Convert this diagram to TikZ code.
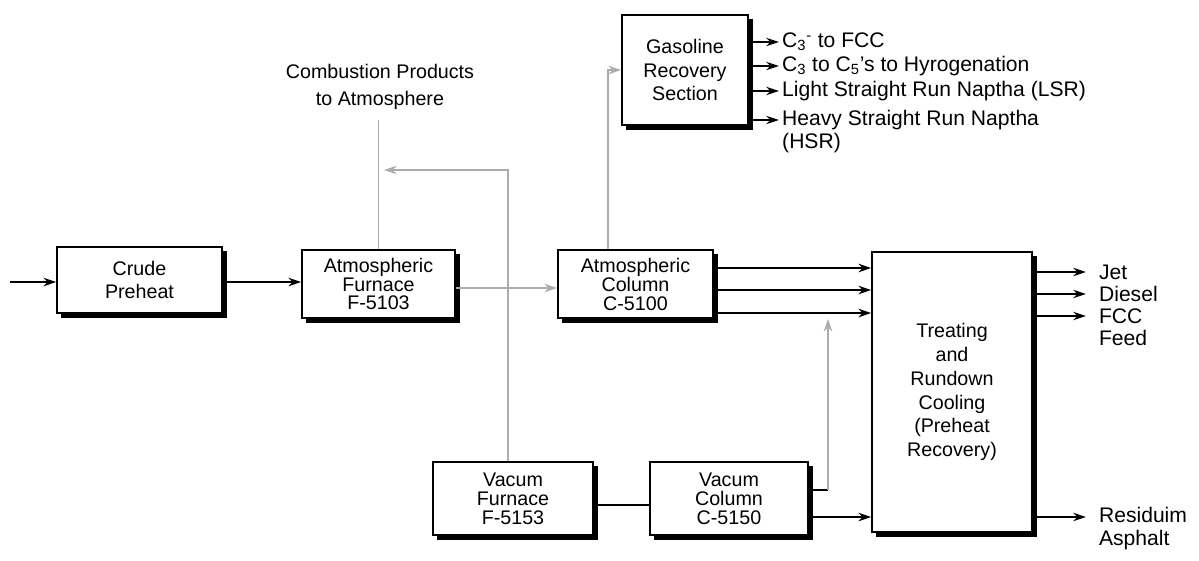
\documentclass[tikz,border=0pt]{standalone}
\usepackage{fontspec}
\setmainfont{Liberation Sans}
\usetikzlibrary{arrows.meta,shadows}
\begin{document}
\begin{tikzpicture}[x=0.025cm,y=-0.025cm,font=\fontsize{14}{17}\selectfont,
  unit/.style={draw,line width=1.1pt,fill=white,align=center,inner sep=1pt,
    drop shadow={shadow xshift=3.2pt,shadow yshift=-3.2pt,fill=black,opacity=1}},
  tight/.style={font=\fontsize{14}{13}\selectfont},
  mid/.style={font=\fontsize{14}{13.5}\selectfont},
  flow/.style={line width=0.9pt,-{Stealth[length=9pt,width=6pt]}},
  gflow/.style={flow,gray!65},
  pipe/.style={line width=0.9pt},
  gpipe/.style={pipe,gray!65},
  prod/.style={anchor=west,align=left,inner sep=2pt,font=\fontsize{15}{16.3}\selectfont}]
\useasboundingbox (0,0) rectangle (1199,560);
\node[unit,minimum width=4.125cm,minimum height=1.65cm] (crude) at (139.5,280) {Crude\\Preheat};
\node[unit,tight,minimum width=3.825cm,minimum height=1.7cm] (furn) at (378.5,284) {Atmospheric\\Furnace\\F-5103};
\node[unit,tight,minimum width=3.875cm,minimum height=1.7cm] (atmcol) at (635.5,284) {Atmospheric\\Column\\C-5100};
\node[unit,minimum width=3.15cm,minimum height=2.75cm] (gasrec) at (685,70) {Gasoline\\Recovery\\Section};
\node[unit,minimum width=4cm,minimum height=7cm] (treat) at (952,392) {Treating\\and\\Rundown\\Cooling\\(Preheat\\Recovery)};
\node[unit,mid,minimum width=4cm,minimum height=1.825cm] (vacfurn) at (513,498.5) {Vacum\\Furnace\\F-5153};
\node[unit,mid,minimum width=3.95cm,minimum height=1.825cm] (vaccol) at (729,498.5) {Vacum\\Column\\C-5150};
\node[align=center,font=\fontsize{14}{19}\selectfont] (comb) at (380,87) {Combustion Products\\to Atmosphere};
\coordinate (feed) at (10,282);
\coordinate (vent) at (378.5,120);
\coordinate (flue) at (384,170);
\coordinate (lift) at (828,490);
\draw[flow] (feed) -- (crude.west |- feed);
\draw[flow] (crude.east |- 0,282) -- (furn.west |- 0,282);
\draw[gflow] (furn.east |- 0,288) -- (atmcol.west |- 0,288);
\draw[gpipe] (furn.north) -- (vent);
\draw[gflow] (vacfurn.north -| 508,0) |- (flue);
\draw[gflow] (atmcol.north -| 608,0) |- (gasrec.west);
\foreach \yy/\lab [count=\i] in {42/{C\textsubscript{3}\textsuperscript{-} to FCC},
  66/{C\textsubscript{3} to C\textsubscript{5}'s to Hyrogenation},91/{Light Straight Run Naptha (LSR)}}{
  \draw[flow] (gasrec.east |- 0,\yy) -- ++(30,0) node[prod] (gas\i) {\lab};}
\draw[flow] (gasrec.east |- 0,120) -- ++(30,0) node[prod,yshift=-8pt] (gas4) {Heavy Straight Run Naptha\\(HSR)};
\foreach \yy in {268,290,313}{
  \draw[flow] (atmcol.east |- 0,\yy) -- (treat.west |- 0,\yy);}
\draw[pipe] (vacfurn.east |- 0,505) -- (vaccol.west |- 0,505);
\draw[flow] (vaccol.east |- 0,517) -- (treat.west |- 0,517);
\draw[pipe] (vaccol.east |- 0,490) -- (lift);
\draw[gflow] (lift) -- (lift |- atmcol.south);
\foreach \yy/\lab [count=\i] in {272/Jet,294/Diesel}{
  \draw[flow] (treat.east |- 0,\yy) -- ++(53,0) node[prod,xshift=7pt] (prd\i) {\lab};}
\draw[flow] (treat.east |- 0,316) -- ++(53,0) node[prod,xshift=7pt,yshift=-8pt] (prd3) {FCC\\Feed};
\draw[flow] (treat.east |- 0,517) -- ++(53,0) node[prod,xshift=7pt,yshift=-8pt] (prd4) {Residuim\\Asphalt};
\end{tikzpicture}
\end{document}
